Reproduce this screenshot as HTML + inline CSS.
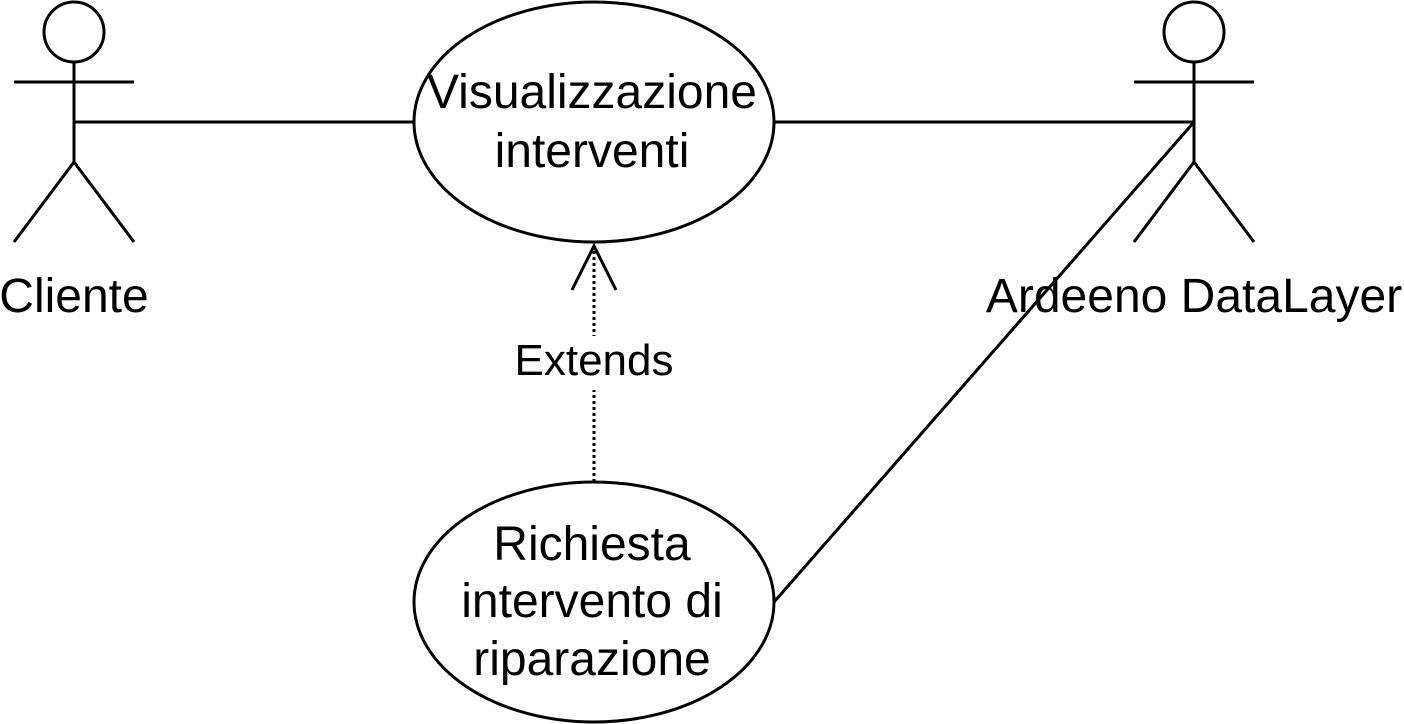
<!DOCTYPE html>
<html><head><meta charset="utf-8"><style>
html,body{margin:0;padding:0;background:#fff;}
svg{display:block;}
text{font-family:"Liberation Sans",Arial,sans-serif;fill:#000;}
</style></head><body>
<svg width="1404" height="724" viewBox="0 0 1404 724" xmlns="http://www.w3.org/2000/svg">
<g stroke="#000" stroke-width="3" fill="none">
  <circle cx="74" cy="32" r="30" fill="#fff"/>
  <line x1="74" y1="62" x2="74" y2="162"/>
  <line x1="14" y1="82" x2="134" y2="82"/>
  <line x1="74" y1="162" x2="14" y2="242"/>
  <line x1="74" y1="162" x2="134" y2="242"/>
  <circle cx="1194" cy="32" r="30" fill="#fff"/>
  <line x1="1194" y1="62" x2="1194" y2="162"/>
  <line x1="1134" y1="82" x2="1254" y2="82"/>
  <line x1="1194" y1="162" x2="1134" y2="242"/>
  <line x1="1194" y1="162" x2="1254" y2="242"/>
  <line x1="74" y1="122" x2="414" y2="122"/>
  <line x1="774" y1="122" x2="1194" y2="122"/>
  <line x1="774" y1="602" x2="1194" y2="122"/>
  <line x1="594" y1="482" x2="594" y2="248" stroke-dasharray="3 3"/>
  <polyline points="572,290 594,246 616,290"/>
  <ellipse cx="594" cy="122" rx="180" ry="120" fill="#fff"/>
  <ellipse cx="594" cy="602" rx="180" ry="120" fill="#fff"/>
</g>
<rect x="510" y="336" width="168" height="54" fill="#fff"/>
<g font-size="48" text-anchor="middle">
  <text x="592" y="108">Visualizzazione</text>
  <text x="592" y="167">interventi</text>
  <text x="592" y="560">Richiesta</text>
  <text x="592" y="617">intervento di</text>
  <text x="592" y="675">riparazione</text>
  <text x="74" y="312">Cliente</text>
  <text x="1194" y="312">Ardeeno DataLayer</text>
</g>
<text x="594" y="375" font-size="44" text-anchor="middle">Extends</text>
</svg>
</body></html>
